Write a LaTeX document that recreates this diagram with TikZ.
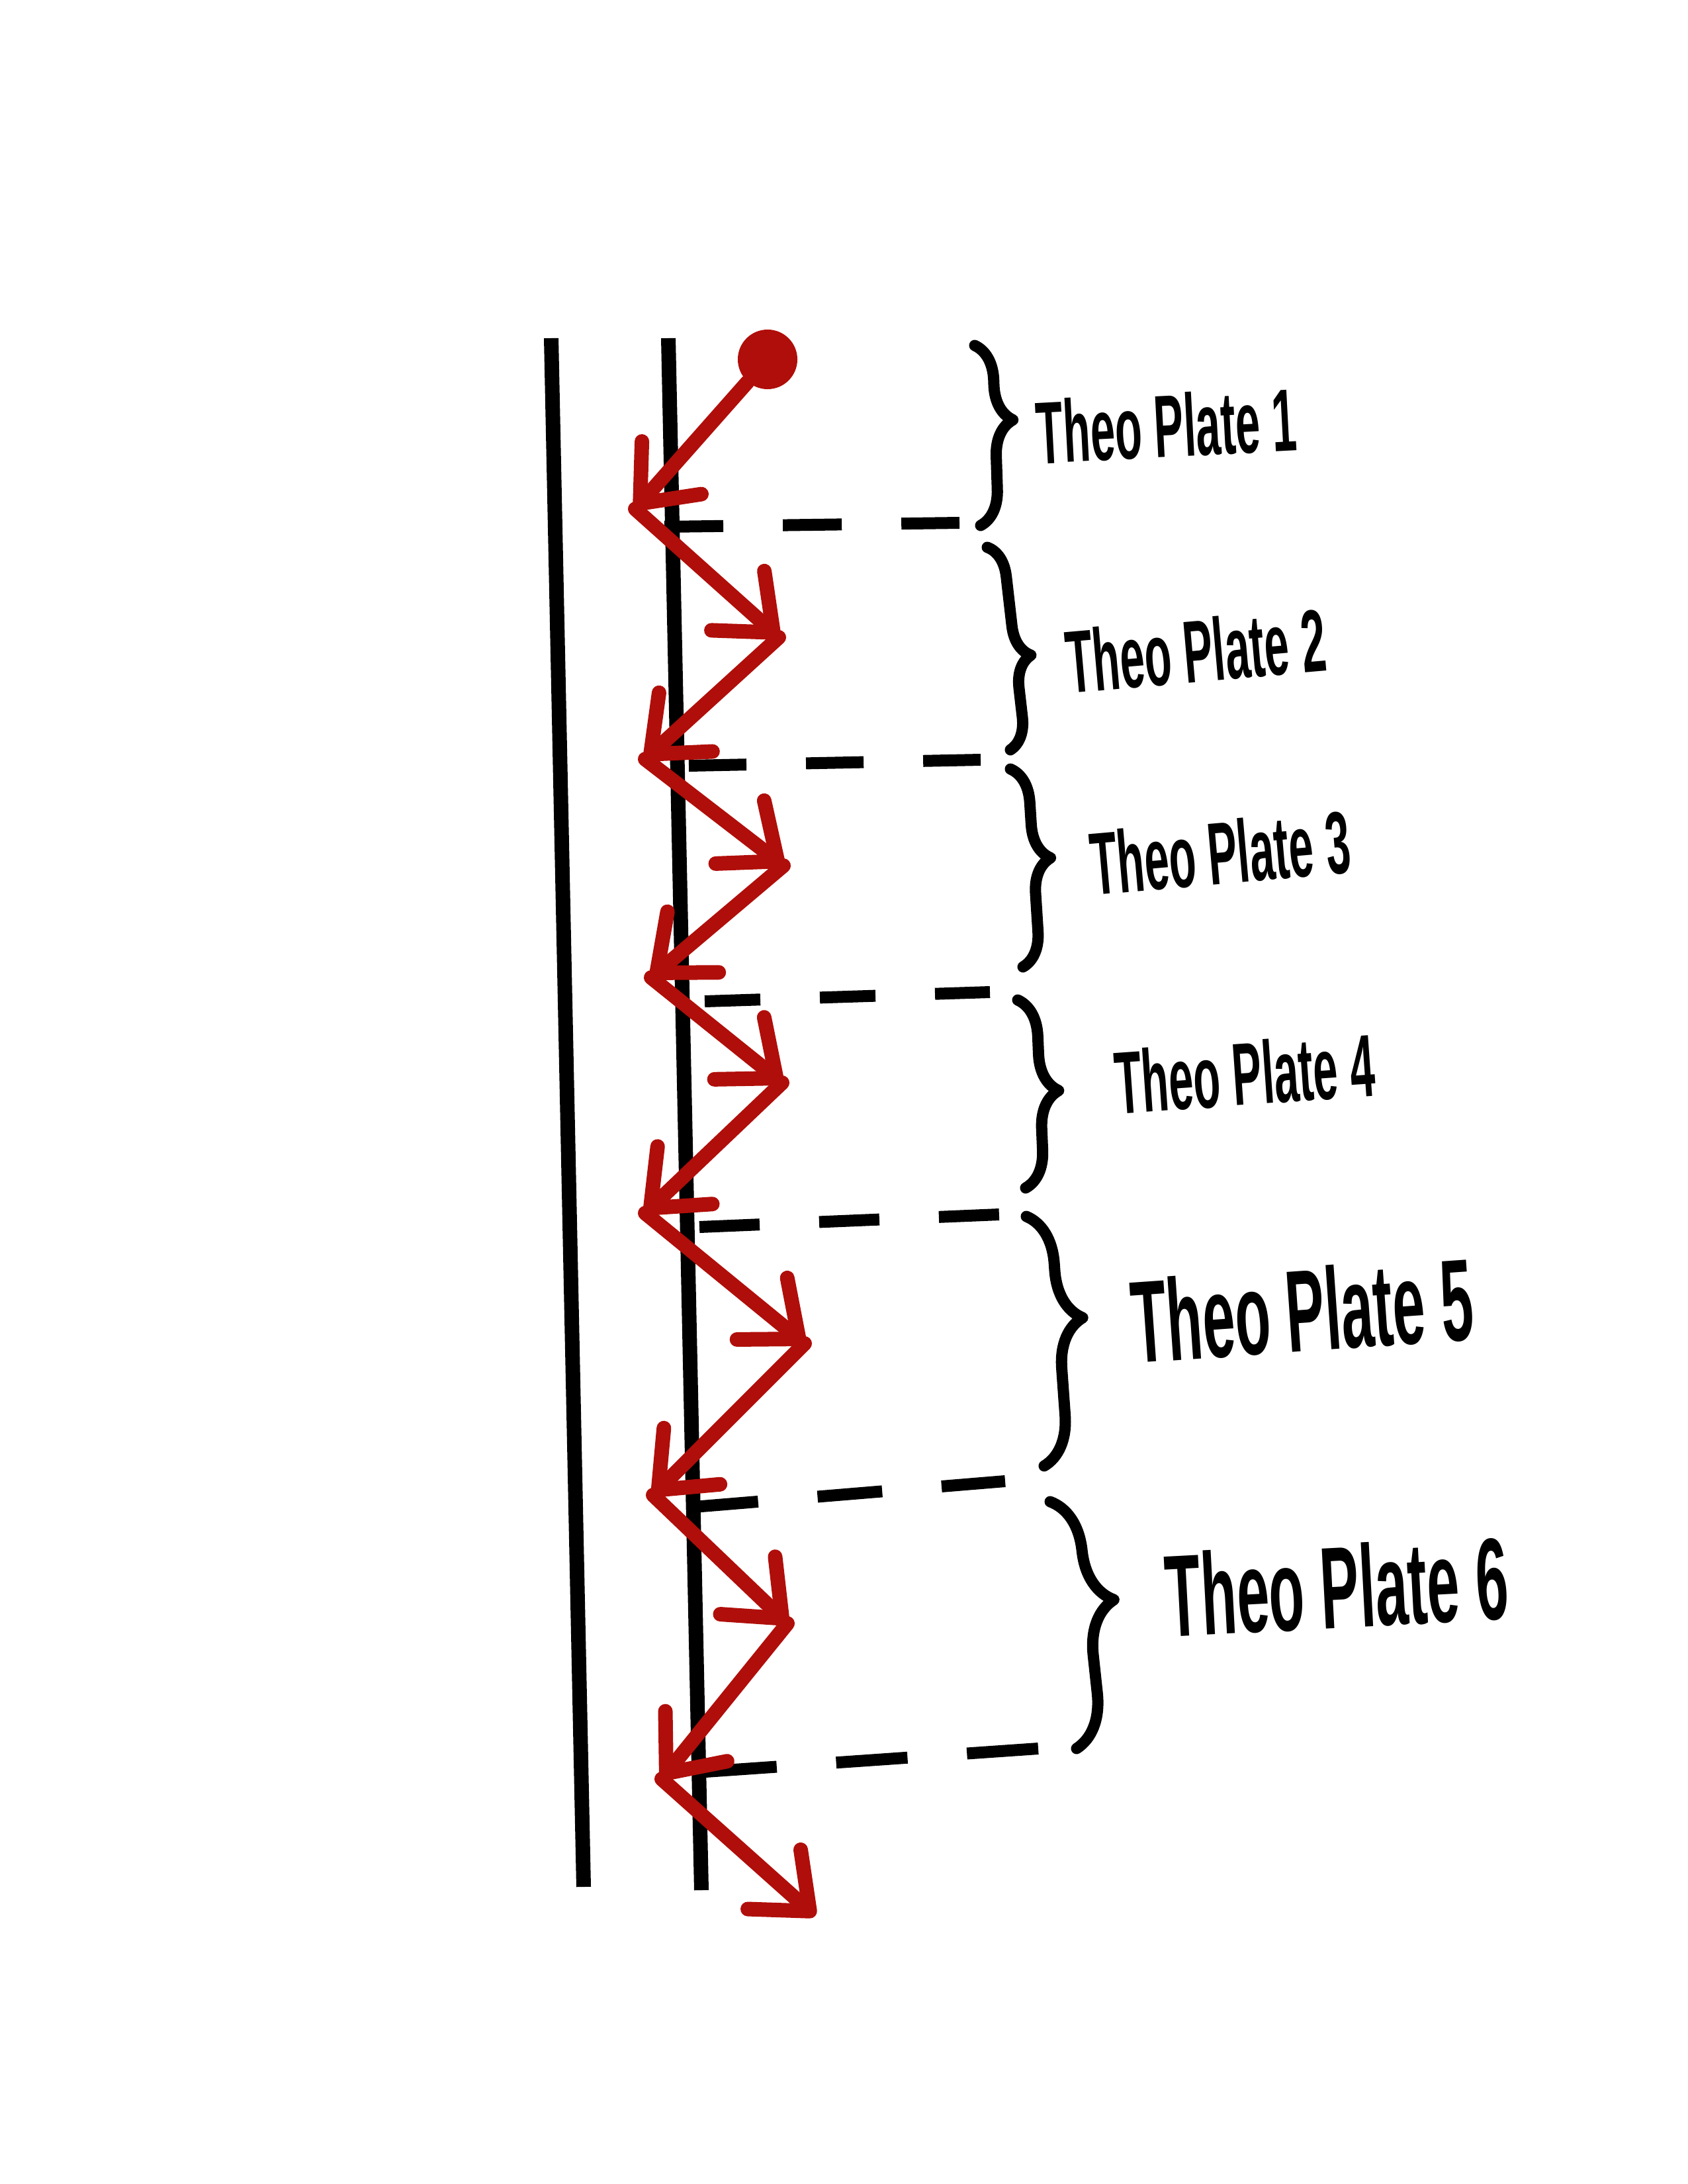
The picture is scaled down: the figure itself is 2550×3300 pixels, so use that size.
\documentclass[tikz,border=0pt]{standalone}
\usepackage{fontspec}
\setmainfont{Liberation Sans}
\usetikzlibrary{arrows.meta,decorations.pathreplacing,calc}
\definecolor{zred}{RGB}{176,14,10}
\begin{document}
\begin{tikzpicture}[x=0.01cm,y=-0.01cm,
  wall/.style={line width=0.22cm, draw=black},
  zig/.style={line width=0.22cm, draw=zred, line cap=round, line join=round,
    -{Straight Barb[length=0.72cm,width=1.2cm,round]}},
  dashline/.style={line width=0.18cm, draw=black, dash pattern=on #1 off 0.9cm},
  bracestyle/.style 2 args={line width=0.17cm, draw=black, line cap=round, line join=round,
    decorate, decoration={brace, amplitude=#1, aspect=#2}},
  lab/.style={inner sep=0pt, anchor=center, font=\bfseries}
]
\useasboundingbox (0,0) rectangle (2550,3300);

% column walls
\coordinate (lt) at (833,511);
\coordinate (lb) at (882,2851);
\coordinate (rt) at (1010,511);
\coordinate (rb) at (1060,2856);
\draw[wall] (lt) -- (lb);
\draw[wall] (rt) -- (rb);

% dashed plate boundaries
\coordinate (d1a) at (1004,796);  \coordinate (d1b) at (1450,790);
\coordinate (d2a) at (1041,1157); \coordinate (d2b) at (1482,1148);
\coordinate (d3a) at (1065,1513); \coordinate (d3b) at (1496,1499);
\coordinate (d4a) at (1057,1854); \coordinate (d4b) at (1510,1835);
\coordinate (d5a) at (1048,2277); \coordinate (d5b) at (1519,2238);
\coordinate (d6a) at (1066,2677); \coordinate (d6b) at (1569,2642);
\draw[dashline=0.89cm] (d1a) -- (d1b);
\draw[dashline=0.87cm] (d2a) -- (d2b);
\draw[dashline=0.84cm] (d3a) -- (d3b);
\draw[dashline=0.91cm] (d4a) -- (d4b);
\draw[dashline=0.98cm] (d5a) -- (d5b);
\draw[dashline=1.08cm] (d6a) -- (d6b);

% braces
\coordinate (t1) at (1473,522);  \coordinate (b1) at (1482,794);
\coordinate (t2) at (1492,827);  \coordinate (b2) at (1527,1133);
\coordinate (t3) at (1527,1162); \coordinate (b3) at (1546,1461);
\coordinate (t4) at (1538,1511); \coordinate (b4) at (1550,1795);
\coordinate (t5) at (1551,1838); \coordinate (b5) at (1578,2215);
\coordinate (t6) at (1587,2269); \coordinate (b6) at (1627,2642);
\draw[bracestyle={0.54cm}{0.42}] (t1) -- (b1);
\draw[bracestyle={0.47cm}{0.55}] (t2) -- (b2);
\draw[bracestyle={0.52cm}{0.46}] (t3) -- (b3);
\draw[bracestyle={0.56cm}{0.49}] (t4) -- (b4);
\draw[bracestyle={0.74cm}{0.42}] (t5) -- (b5);
\draw[bracestyle={0.8cm}{0.42}] (t6) -- (b6);

% labels
\node[lab, rotate=3] (l1) at (1763,643) {\fontsize{38}{40}\selectfont\scalebox{0.5}[1]{Theo Plate 1}};
\node[lab, rotate=5] (l2) at (1807,983) {\fontsize{38}{40}\selectfont\scalebox{0.5}[1]{Theo Plate 2}};
\node[lab, rotate=5] (l3) at (1844,1288) {\fontsize{38}{40}\selectfont\scalebox{0.5}[1]{Theo Plate 3}};
\node[lab, rotate=4] (l4) at (1881,1622) {\fontsize{38}{40}\selectfont\scalebox{0.5}[1]{Theo Plate 4}};
\node[lab, rotate=4] (l5) at (1968,1979) {\fontsize{50}{52}\selectfont\scalebox{0.5}[1]{Theo Plate 5}};
\node[lab, rotate=3] (l6) at (2020,2397) {\fontsize{50}{52}\selectfont\scalebox{0.5}[1]{Theo Plate 6}};

% zigzag path of the analyte
\node[circle, fill=zred, inner sep=0pt, minimum size=0.9cm] (dot) at (1160,543) {};
\coordinate (p1) at (960,769);
\coordinate (p2) at (1177,963);
\coordinate (p3) at (975,1147);
\coordinate (p4) at (1184,1308);
\coordinate (p5) at (984,1477);
\coordinate (p6) at (1182,1636);
\coordinate (p7) at (975,1833);
\coordinate (p8) at (1216,2030);
\coordinate (p9) at (987,2259);
\coordinate (p10) at (1190,2453);
\coordinate (p11) at (1000,2688);
\coordinate (p12) at (1232,2895);
\draw[zig] (dot) -- (p1);
\draw[zig] (p1) -- (p2);
\draw[zig] (p2) -- (p3);
\draw[zig] (p3) -- (p4);
\draw[zig] (p4) -- (p5);
\draw[zig] (p5) -- (p6);
\draw[zig] (p6) -- (p7);
\draw[zig] (p7) -- (p8);
\draw[zig] (p8) -- (p9);
\draw[zig] (p9) -- (p10);
\draw[zig] (p10) -- (p11);
\draw[zig] (p11) -- (p12);
\end{tikzpicture}
\end{document}
